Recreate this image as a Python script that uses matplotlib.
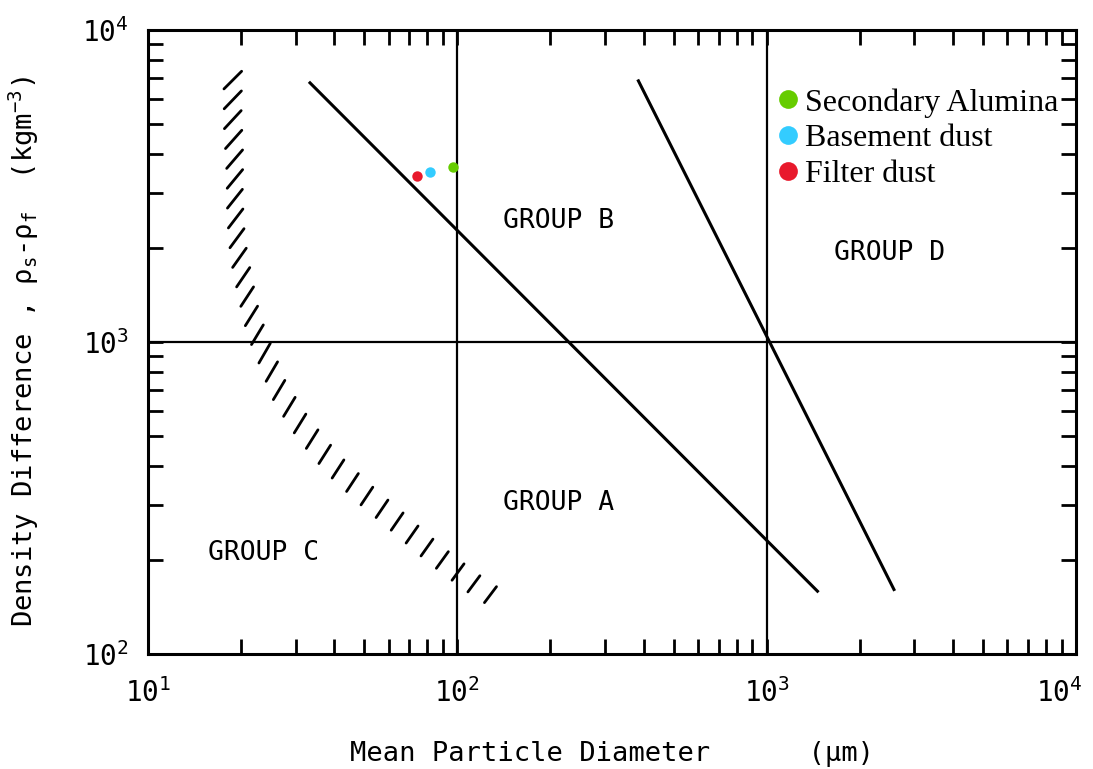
import numpy as np
import matplotlib.pyplot as plt
from matplotlib.transforms import ScaledTranslation

plt.rcParams['font.family'] = 'DejaVu Sans Mono'
plt.rcParams['mathtext.fontset'] = 'custom'
plt.rcParams['mathtext.rm'] = 'DejaVu Sans Mono'
plt.rcParams['mathtext.it'] = 'DejaVu Sans Mono'

# Group boundaries: diameter (um) vs density difference (kg/m3)
ab_d = [33.4, 1460]
ab_rho = [6770, 159]
bd_d = [385, 2580]
bd_rho = [6870, 161]

# centre line of the cohesive C/A band
ca_d = [18.8, 18.8, 19.1, 19.1, 19.5, 20.6, 21.9, 24.3, 26.7, 31.7,
        39.6, 51.0, 65.3, 83.5, 110, 128]
ca_rho = [6910, 5070, 3690, 2690, 1990, 1500, 1140, 876, 691, 530,
          406, 321, 261, 211, 171, 155]

# measured powders
powders = ["Secondary Alumina", "Basement dust", "Filter dust"]
powder_d = [96.8, 81.6, 74.1]
powder_rho = [3640, 3510, 3400]
powder_colors = ["#66cc00", "#33ccff", "#e8192c"]

groups = ["GROUP A", "GROUP B", "GROUP C", "GROUP D"]
group_d = [212, 212, 23.7, 2490]
group_rho = [305, 2440, 211, 1930]

fig = plt.figure(figsize=(10.93, 7.69), dpi=100)
ax = fig.add_axes([0.1354, 0.1495, 0.849, 0.8115])
ax.set_xscale('log')
ax.set_yscale('log')
ax.set_xlim(10, 1e4)
ax.set_ylim(100, 1e4)

for side in ax.spines.values():
    side.set_linewidth(2.2)
ax.tick_params(which='both', direction='in', top=True, right=True,
               width=2, length=11, labelsize=20)
ax.tick_params(axis='x', which='major', pad=17)
ax.tick_params(axis='y', which='major', pad=14)

# grid dividing lines
ax.axvline(100, color='black', lw=1.6)
ax.axvline(1000, color='black', lw=1.6)
ax.axhline(1000, color='black', lw=1.6)

ax.plot(ab_d, ab_rho, color='black', lw=2.2)
ax.plot(bd_d, bd_rho, color='black', lw=2.2)

# hatch marks along the C/A band
pts = ax.transData.transform(np.column_stack([ca_d, ca_rho]))
seg = np.hypot(*np.diff(pts, axis=0).T)
s = np.concatenate([[0], np.cumsum(seg)])
inv = ax.transData.inverted()
for sk in np.linspace(0, s[-1], 32):
    cx = np.interp(sk, s, pts[:, 0])
    cy = np.interp(sk, s, pts[:, 1])
    frac = sk / s[-1]
    ang = np.radians(np.interp(frac, [0, 0.45, 1], [45, 60, 53]))
    half = np.interp(frac, [0, 1], [12.5, 10])
    ends = inv.transform([[cx - half * np.cos(ang), cy - half * np.sin(ang)],
                          [cx + half * np.cos(ang), cy + half * np.sin(ang)]])
    ax.plot(ends[:, 0], ends[:, 1], color='black', lw=2.0,
            solid_capstyle='round')

for name, d, rho, c in zip(powders, powder_d, powder_rho, powder_colors):
    ax.plot(d, rho, 'o', ms=7.5, color=c, mec='none', label=name, zorder=5)

for g, d, rho in zip(groups, group_d, group_rho):
    ax.text(d, rho, g, fontsize=19, ha='center', va='center')

ax.legend(loc='upper left', bbox_to_anchor=(0.682, 0.907), frameon=False,
          prop={'family': 'Liberation Serif', 'size': 23}, markerscale=1.8,
          handlelength=0.45, handletextpad=0.3, labelspacing=0.2,
          borderpad=0, borderaxespad=0)

ax.set_xlabel('Mean Particle Diameter      (\u03bcm)', fontsize=19.5, labelpad=24)
ax.set_ylabel('Density Difference , $\\rho_{s}$-$\\rho_{f}$  (kgm$^{-3}$)',
              fontsize=19.5)
ax.yaxis.set_label_coords(-0.115, 0.485)

# keep the last x label inside the figure
fig.canvas.draw()
for lab in ax.get_xticklabels():
    if lab.get_position()[0] >= 1e4 * 0.99:
        lab.set_transform(lab.get_transform() +
                          ScaledTranslation(-12 / 72, 0, fig.dpi_scale_trans))

fig.savefig('out.png', dpi=100)
